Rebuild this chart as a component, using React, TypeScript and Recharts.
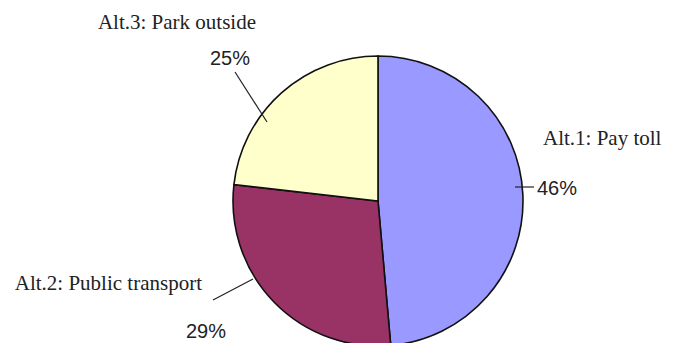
import { PieChart, Pie, Cell } from "recharts";

// slice shares as drawn (clockwise from 12 o'clock)
const categories = ["Alt.1: Pay toll", "Alt.2: Public transport", "Alt.3: Park outside"];
const shares = [48.6, 28.2, 23.2];
const percentLabels = ["46%", "29%", "25%"];

const COLORS = ["#9999ff", "#993366", "#ffffcc"];

const W = 675;
const H = 343;
const CX = 378;
const CY = 201;
const R = 145;

// label placement relative to pie centre
const LABEL_LAYOUT = [
  { line: [137, -14, 156, -14], pct: [159, -6, "start"], cat: [165, -56, "start"] },
  { line: [-125, 78, -165, 99], pct: [-172, 137, "middle"], cat: [-176, 89, "end"] },
  { line: [-111, -79, -143, -129], pct: [-148, -136, "middle"], cat: [-201, -172, "middle"] },
];

const data = categories.map((name, i) => ({ name, value: shares[i], pct: percentLabels[i] }));

function renderLabel(props: any) {
  const i = props.index;
  const l = LABEL_LAYOUT[i];
  const [x1, y1, x2, y2] = l.line as number[];
  return (
    <g key={"lbl" + i}>
      <line x1={CX + x1} y1={CY + y1} x2={CX + x2} y2={CY + y2} stroke="#222" strokeWidth={1.2} />
      <text
        x={CX + (l.pct[0] as number)}
        y={CY + (l.pct[1] as number)}
        textAnchor={l.pct[2] as any}
        fontFamily="Liberation Sans, Arial, sans-serif"
        fontSize={20}
        fill="#222"
      >
        {data[i].pct}
      </text>
      <text
        x={CX + (l.cat[0] as number)}
        y={CY + (l.cat[1] as number)}
        textAnchor={l.cat[2] as any}
        fontFamily="Liberation Serif, Times New Roman, serif"
        fontSize={21}
        fill="#222"
      >
        {data[i].name}
      </text>
    </g>
  );
}

export default function App() {
  return (
    <div style={{ position: "absolute", left: 0, top: 0, width: W, height: H, background: "#fff", overflow: "hidden" }}>
      <PieChart width={W} height={H} margin={{ top: 0, right: 0, bottom: 0, left: 0 }}>
        <Pie
          data={data}
          dataKey="value"
          nameKey="name"
          cx={CX}
          cy={CY}
          outerRadius={R}
          startAngle={90}
          endAngle={-270}
          stroke="#111"
          strokeWidth={1.6}
          label={renderLabel}
          labelLine={false}
          isAnimationActive={false}
        >
          {data.map((d, i) => (
            <Cell key={d.name} fill={COLORS[i]} />
          ))}
        </Pie>
      </PieChart>
    </div>
  );
}
